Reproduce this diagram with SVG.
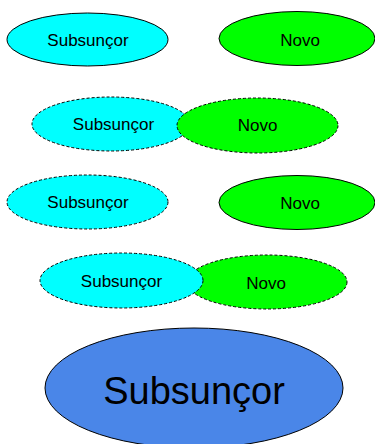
<svg xmlns="http://www.w3.org/2000/svg" width="375" height="444" viewBox="0 0 375 444">
<style>
.n ellipse{stroke:#000;stroke-width:1}
.d ellipse{stroke-dasharray:3 2}
.c{fill:#00ffff}
.g{fill:#00ff00}
.b{fill:#4a86e8}
text{font-family:"Liberation Sans",Arial,sans-serif;font-size:17px;text-anchor:middle;dominant-baseline:central;fill:#000}
.big{font-size:38px}
</style>
<g id="connectors"/>
<g id="n1" class="n"><ellipse class="c" cx="87.5" cy="39.5" rx="80.5" ry="26.5"/><text x="88" y="40">Subsunçor</text></g>
<g id="n2" class="n"><ellipse class="g" cx="297" cy="38.5" rx="78" ry="27"/><text x="300" y="40">Novo</text></g>
<g id="n3" class="n d"><ellipse class="c" cx="111" cy="124" rx="79" ry="27"/><text x="113.5" y="124">Subsunçor</text></g>
<g id="n4" class="n d"><ellipse class="g" cx="257.5" cy="125.5" rx="80.5" ry="27.5"/><text x="257.5" y="125.5">Novo</text></g>
<g id="n5" class="n d"><ellipse class="c" cx="87.5" cy="202" rx="80.5" ry="27"/><text x="88" y="202.5">Subsunçor</text></g>
<g id="n6" class="n"><ellipse class="g" cx="297" cy="202.5" rx="78" ry="27"/><text x="300" y="203">Novo</text></g>
<g id="n8" class="n d"><ellipse class="g" cx="267" cy="282" rx="80" ry="27"/><text x="266" y="283">Novo</text></g>
<g id="n7" class="n d"><ellipse class="c" cx="121.5" cy="280.5" rx="81.5" ry="27.5"/><text x="121.5" y="281.5">Subsunçor</text></g>
<g id="n9" class="n"><ellipse class="b" cx="194" cy="388" rx="149" ry="60"/><text class="big" x="194" y="391">Subsunçor</text></g>
</svg>
